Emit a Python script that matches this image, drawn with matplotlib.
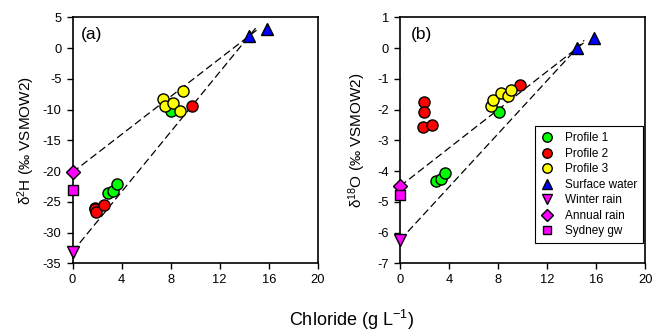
import matplotlib
matplotlib.use("Agg")
import matplotlib.pyplot as plt

plt.rcParams['font.family'] = ['Liberation Sans', 'DejaVu Sans']
plt.rcParams['mathtext.fontset'] = 'custom'
plt.rcParams['mathtext.rm'] = 'Liberation Sans'
plt.rcParams['mathtext.it'] = 'Liberation Sans'
plt.rcParams['axes.unicode_minus'] = False

# ---- data (Chloride g/L) ----
p1_cl_a = [2.86, 3.27, 3.6, 8.03]
p1_h = [-23.5, -23.3, -22.1, -10.2]
p1_cl_b = [2.93, 3.34, 3.66, 8.03]
p1_o = [-4.34, -4.26, -4.05, -2.09]

p2_cl_a = [1.8, 1.85, 1.88, 2.59, 9.77]
p2_h = [-26.0, -26.2, -26.6, -25.5, -9.4]
p2_cl_b = [1.93, 1.93, 1.85, 2.63, 9.77]
p2_o = [-1.76, -2.08, -2.57, -2.51, -1.2]

p3_cl_a = [7.4, 7.54, 8.22, 8.76, 9.03]
p3_h = [-8.3, -9.5, -9.0, -10.3, -7.0]
p3_cl_b = [7.41, 7.54, 8.22, 8.77, 9.04]
p3_o = [-1.9, -1.69, -1.45, -1.56, -1.38]

sw_cl = [14.42, 15.84]
sw_h = [2.0, 3.05]
sw_o = [0.0, 0.34]

wr_cl = [0.0]
wr_h = [-33.1]
wr_o = [-6.24]

ar_cl = [0.0]
ar_h = [-20.2]
ar_o = [-4.49]

gw_cl = [0.0]
gw_h = [-23.1]
gw_o = [-4.78]

line_x_end = 15.0

fig = plt.figure(figsize=(6.54, 3.32), dpi=100)
axa = fig.add_axes([0.111, 0.207, 0.375, 0.741])
axb = fig.add_axes([0.612, 0.207, 0.375, 0.741])

ms = 8
def plot_panel(ax, p1x, p1y, p2x, p2y, p3x, p3y, swy, wry, ary, gwy):
    # mixing lines
    for y0 in (ary[0], wry[0]):
        slope = (swy[0] - y0) / (sw_cl[0] - 0.0)
        ax.plot([0, line_x_end], [y0, y0 + slope * line_x_end], ls=(0, (6, 3)),
                color='black', lw=0.9, zorder=1)
    kw = dict(ls='none', mec='black', mew=1.0, ms=ms, zorder=3, clip_on=False)
    ax.plot(p1x, p1y, 'o', mfc='#00ff00', label='Profile 1', **kw)
    ax.plot(p2x, p2y, 'o', mfc='#ff0000', label='Profile 2', **kw)
    ax.plot(p3x, p3y, 'o', mfc='#ffff00', label='Profile 3', **kw)
    ax.plot(sw_cl, swy, '^', mfc='#0000ff', label='Surface water', **kw)
    ax.plot(wr_cl, wry, 'v', mfc='#ff00ff', label='Winter rain', **kw)
    ax.plot(ar_cl, ary, 'D', mfc='#ff00ff', label='Annual rain', **dict(kw, ms=7))
    ax.plot(gw_cl, gwy, 's', mfc='#ff00ff', label='Sydney gw', **dict(kw, ms=7))
    ax.set_xlim(0, 20)
    ax.set_xticks([0, 4, 8, 12, 16, 20])
    for s in ax.spines.values():
        s.set_linewidth(1.2)
    ax.tick_params(direction='out', length=4, width=1.0, labelsize=9.3, pad=4,
                   top=False, right=False)

plot_panel(axa, p1_cl_a, p1_h, p2_cl_a, p2_h, p3_cl_a, p3_h, sw_h, wr_h, ar_h, gw_h)
axa.set_ylim(-35, 5)
axa.set_yticks(range(-35, 6, 5))
axa.set_ylabel(r'$\mathrm{\delta}^{2}$H (‰ VSMOW2)', fontsize=11, labelpad=4)
axa.text(0.035, 0.93, '(a)', transform=axa.transAxes, fontsize=12.5, va='center', ha='left')

plot_panel(axb, p1_cl_b, p1_o, p2_cl_b, p2_o, p3_cl_b, p3_o, sw_o, wr_o, ar_o, gw_o)
axb.set_ylim(-7, 1)
axb.set_yticks(range(-7, 2, 1))
axb.set_ylabel(r'$\mathrm{\delta}^{18}$O (‰ VSMOW2)', fontsize=11, labelpad=7)
axb.text(0.045, 0.93, '(b)', transform=axb.transAxes, fontsize=12.5, va='center', ha='left')

leg = axb.legend(loc='lower right', bbox_to_anchor=(0.989, 0.081), fontsize=8.5,
                 frameon=True, fancybox=False, edgecolor='black', framealpha=1,
                 handletextpad=1.0, labelspacing=0.3, borderpad=0.5,
                 borderaxespad=0, handlelength=1.0, markerscale=0.85)
leg.get_frame().set_linewidth(0.8)

fig.text(0.537, 0.035, r'Chloride (g L$^{-1}$)', fontsize=13, ha='center', va='center')

fig.savefig('out.png', dpi=100)
